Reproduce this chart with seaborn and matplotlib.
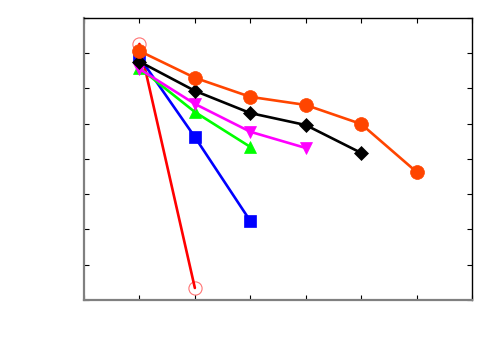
import numpy as np
import pandas as pd
import seaborn as sns
import matplotlib
matplotlib.use("Agg")
import matplotlib.pyplot as plt

# values (no tick labels in the original)
red_x = [1, 2]
red_y = [7.26, 0.34]
blue_x = [1, 2, 3]
blue_y = [6.88, 4.62, 2.24]
green_x = [1, 2, 3]
green_y = [6.58, 5.33, 4.34]
magenta_x = [1, 2, 3, 4]
magenta_y = [6.55, 5.56, 4.77, 4.31]
black_x = [1, 2, 3, 4, 5]
black_y = [6.76, 5.93, 5.30, 4.96, 4.17]
orange_x = [1, 2, 3, 4, 5, 6]
orange_y = [7.06, 6.30, 5.76, 5.53, 4.99, 3.63]

sns.set_style("white", {"xtick.direction": "in", "ytick.direction": "in",
                        "xtick.top": True, "ytick.right": True,
                        "xtick.bottom": True, "ytick.left": True})

fig = plt.figure(figsize=(5, 3.5), dpi=100)
ax = fig.add_axes([0.168, 0.143, 0.776, 0.806])

lw = 1.9

sns.lineplot(x=red_x, y=red_y, ax=ax, color="#ff0000", linewidth=lw,
             marker="o", markersize=9.5, markerfacecolor="none",
             markeredgecolor=(1, 0, 0, 0.55), markeredgewidth=0.8)
sns.lineplot(x=blue_x, y=blue_y, ax=ax, color="#0000ff", linewidth=lw,
             marker="s", markersize=9, markeredgecolor="#0000ff", markeredgewidth=0.5)
sns.lineplot(x=green_x, y=green_y, ax=ax, color="#00ff00", linewidth=lw,
             marker="^", markersize=9, markeredgecolor="#00ff00", markeredgewidth=0.5)
sns.lineplot(x=magenta_x, y=magenta_y, ax=ax, color="#ff00ff", linewidth=lw,
             marker="v", markersize=9, markeredgecolor="#ff00ff", markeredgewidth=0.5)
sns.lineplot(x=black_x, y=black_y, ax=ax, color="black", linewidth=lw,
             marker="D", markersize=7.5, markeredgecolor="black", markeredgewidth=0.5)
sns.lineplot(x=orange_x, y=orange_y, ax=ax, color="#ff4500", linewidth=lw,
             marker="o", markersize=10, markeredgecolor="#ff4500", markeredgewidth=0.5)

ax.set_xlim(0, 7)
ax.set_ylim(0, 8)
ax.set_xticks(np.arange(0, 8, 1))
ax.set_yticks(np.arange(0, 9, 1))
ax.set_xticklabels([])
ax.set_yticklabels([])
ax.set_xlabel("")
ax.set_ylabel("")
ax.tick_params(direction="in", length=3.5, width=0.8, top=True, right=True,
               bottom=True, left=True, colors="black")

for side in ["left", "bottom"]:
    ax.spines[side].set_color("#808080")
    ax.spines[side].set_linewidth(1.6)
for side in ["top", "right"]:
    ax.spines[side].set_color("black")
    ax.spines[side].set_linewidth(1.0)

fig.savefig("out.png", dpi=100)
